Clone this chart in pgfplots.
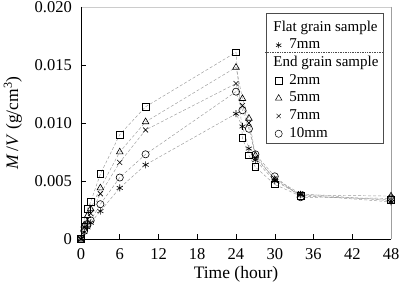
\documentclass[border=0pt]{standalone}
\usepackage{pgfplots}
\pgfplotsset{compat=1.18}
\usepackage{pgfplotstable}
\usepackage{fontspec}
\setmainfont{Liberation Serif}

\pgfplotsset{legmark/.style={legend image code/.code={\path (0pt,0pt) (19pt,0pt); \draw[##1] plot coordinates {(10.5pt,0pt)};}}}

\pgfplotstableread{
t      sq      tri     xx      oo      st
0      0       0       0       0       0
0.5    0.0016  0.0012  0.0010  0.0007  0.0006
1      0.0026  0.0020  0.0017  0.0012  0.0010
1.5    0.0032  0.0026  0.0022  0.0016  0.0014
3      0.0056  0.0044  0.0039  0.0030  0.0024
6      0.0090  0.0075  0.0066  0.0053  0.0044
10     0.0114  0.0101  0.0094  0.0073  0.0064
24     0.0161  0.0148  0.0134  0.0127  0.0108
25     0.0087  0.0121  0.0115  0.0111  0.0097
26     0.0072  0.0104  0.0100  0.0095  0.0078
27     0.0062  0.0072  0.0070  0.0073  0.0068
30     0.0047  0.0051  0.0052  0.0054  0.0050
34     0.0037  0.0038  0.0039  0.0036  0.0038
48     0.0034  0.0037  0.0033  0.0035  0.0032
}\datatable

\begin{document}
\begin{tikzpicture}
\begin{axis}[
  scale only axis,
  width=310pt, height=232pt,
  xmin=0, xmax=48, ymin=0, ymax=0.020,
  clip=false,
  axis line style={draw=none},
  xtick={0,6,...,48},
  ytick={0,0.005,0.010,0.015,0.020},
  yticklabels={0,0.005,0.010,0.015,0.020},
  xtick pos=bottom, ytick pos=left,
  tick align=inside,
  major tick length=5pt,
  every tick/.style={black, line width=0.5pt},
  tick label style={font=\fontsize{16.5}{18}\selectfont},
  /pgf/number format/assume math mode=true,
  xticklabel style={inner sep=0pt, anchor=north, yshift=-9.5pt},
  yticklabel style={inner sep=0pt, anchor=east, xshift=-9pt},
  scaled y ticks=false,
  xlabel={Time (hour)},
  ylabel={\textit{M}\,/\textit{V} (g/cm\textsuperscript{3})},
  every axis x label/.style={at={(axis description cs:0.5,-0.1185)}, anchor=north, inner sep=0pt, font=\fontsize{17.5}{19}\selectfont},
  every axis y label/.style={at={(axis description cs:-0.1903,0.5)}, rotate=90, anchor=south, inner sep=0pt, font=\fontsize{17.5}{19}\selectfont},
  legend cell align=left,
  legend style={at={(0.977,0.975)}, anchor=north east, draw=black!70, line width=0.8pt,
    font=\fontsize{15}{16}\selectfont, row sep=0pt, inner sep=1pt,
    nodes={text height=10.5pt, text depth=3.5pt, inner ysep=1.85pt, inner xsep=2pt},
    /tikz/every even column/.append style={column sep=1pt}},
]
\addplot[forget plot, densely dashed, gray!80, line width=0.45pt, mark=square, mark size=3.3pt,
  mark options={solid, black, line width=0.6pt, fill=white}] table[x=t,y=sq]{\datatable};
\addplot[forget plot, densely dashed, gray!80, line width=0.45pt, mark=triangle, mark size=3.8pt,
  mark options={solid, black, line width=0.6pt, fill=white}] table[x=t,y=tri]{\datatable};
\addplot[forget plot, densely dashed, gray!80, line width=0.45pt, mark=x, mark size=3.5pt,
  mark options={solid, black, line width=0.6pt}] table[x=t,y=xx]{\datatable};
\addplot[forget plot, densely dashed, gray!80, line width=0.45pt, mark=o, mark size=3.6pt,
  mark options={solid, black, line width=0.6pt, fill=white}] table[x=t,y=oo]{\datatable};
\addplot[forget plot, densely dashed, gray!80, line width=0.45pt, mark=asterisk, mark size=3.5pt,
  mark options={solid, black, line width=0.6pt}] table[x=t,y=st]{\datatable};

\addlegendimage{empty legend}
\addlegendentry[text height=15pt]{\makebox[91pt][l]{\hspace*{-16pt}Flat grain sample}}
\addlegendimage{only marks, legmark, mark=asterisk, mark size=3pt, black, line width=0.6pt}
\addlegendentry{7mm}
\addlegendimage{empty legend}
\addlegendentry{\makebox[91pt][l]{\hspace*{-16pt}End grain sample}}
\addlegendimage{only marks, legmark, mark=square, mark size=3.3pt, black, line width=0.5pt}
\addlegendentry{2mm}
\addlegendimage{only marks, legmark, mark=triangle, mark size=3.8pt, black, line width=0.5pt}
\addlegendentry{5mm}
\addlegendimage{only marks, legmark, mark=x, mark size=3pt, black, line width=0.5pt}
\addlegendentry{7mm}
\addlegendimage{only marks, legmark, mark=o, mark size=3.6pt, black, line width=0.5pt}
\addlegendentry{10mm}

\draw[gray!40, line width=0.8pt] (rel axis cs:0,1) -- (rel axis cs:1,1);
\draw[gray!75, line width=0.8pt] (rel axis cs:1,1) -- (rel axis cs:1,0);
\draw[black, line width=0.8pt] (rel axis cs:0,1) -- (rel axis cs:0,0) -- (rel axis cs:1,0);
\coordinate (SW) at (rel axis cs:0,0);
\coordinate (NE) at (rel axis cs:1,1);
\coordinate (sepL) at (rel axis cs:0.593,0.805);
\coordinate (sepR) at (rel axis cs:0.976,0.805);
\end{axis}
\draw[black!70, densely dotted, line width=0.7pt] (sepL) -- (sepR);
\pgfresetboundingbox
\path[use as bounding box] (SW) ++(-81pt,-49pt) coordinate (A) (NE) ++(8pt,7pt) coordinate (B) (A) rectangle (B);
\end{tikzpicture}
\end{document}
